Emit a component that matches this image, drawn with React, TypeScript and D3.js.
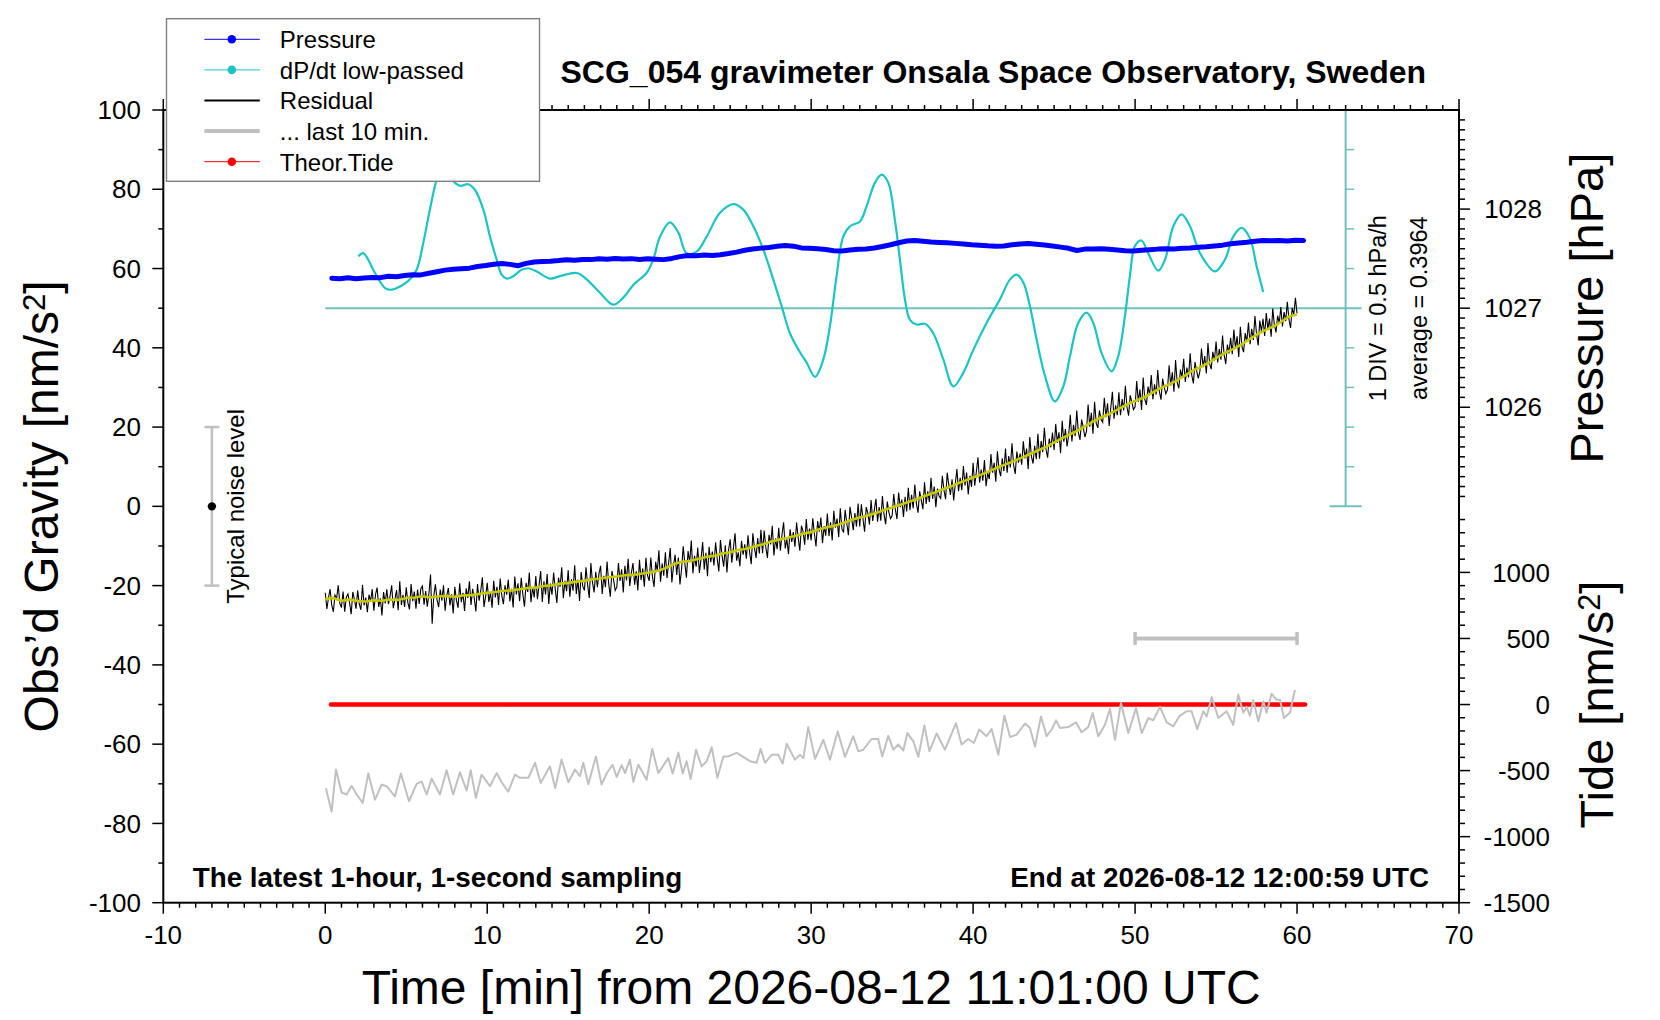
import React from 'react';
import * as d3 from 'd3';

const FONT = '"Liberation Sans", Arial, Helvetica, sans-serif';

// ---- axis labels ----
const timeLabels = [-10, 0, 10, 20, 30, 40, 50, 60, 70];
const gravityLabels = [-100, -80, -60, -40, -20, 0, 20, 40, 60, 80, 100];
const pressureLabels = [1026, 1027, 1028];
const tideLabels = [-1500, -1000, -500, 0, 500, 1000];

// ---- pressure [hPa], every 0.5 min from 0.4 min ----
const pressureHpa = [
  1027.302, 1027.298, 1027.306, 1027.296, 1027.304, 1027.31, 1027.308, 1027.322, 1027.318, 1027.33,
  1027.338, 1027.336, 1027.352, 1027.368, 1027.384, 1027.392, 1027.398, 1027.404, 1027.42, 1027.43,
  1027.444, 1027.45, 1027.442, 1027.428, 1027.452, 1027.466, 1027.47, 1027.474, 1027.48, 1027.488,
  1027.484, 1027.492, 1027.49, 1027.498, 1027.494, 1027.502, 1027.496, 1027.5, 1027.492, 1027.498,
  1027.494, 1027.49, 1027.502, 1027.52, 1027.532, 1027.528, 1027.536, 1027.532, 1027.54, 1027.552,
  1027.566, 1027.584, 1027.598, 1027.606, 1027.612, 1027.624, 1027.632, 1027.626, 1027.608, 1027.604,
  1027.6, 1027.592, 1027.58, 1027.578, 1027.588, 1027.594, 1027.598, 1027.608, 1027.622, 1027.64,
  1027.66, 1027.678, 1027.684, 1027.676, 1027.668, 1027.664, 1027.66, 1027.654, 1027.648, 1027.64,
  1027.636, 1027.63, 1027.626, 1027.628, 1027.64, 1027.648, 1027.652, 1027.646, 1027.638, 1027.628,
  1027.616, 1027.604, 1027.582, 1027.596, 1027.598, 1027.6, 1027.594, 1027.588, 1027.58, 1027.576,
  1027.584, 1027.59, 1027.596, 1027.6, 1027.598, 1027.604, 1027.608, 1027.614, 1027.62, 1027.628,
  1027.636, 1027.65, 1027.658, 1027.666, 1027.676, 1027.684, 1027.68, 1027.684, 1027.678, 1027.686,
  1027.682,
];

// ---- dP/dt low-passed [hPa/h] ----
const DPDT_AVG = 0.3964;
const dpdtMin = [
  2.04, 2.35, 3.07, 3.69, 4.1, 5.13, 5.64, 6.05, 6.46, 6.88, 7.35, 7.9, 8.32, 8.83, 9.24, 9.76, 10.17, 10.58,
  10.89, 11.2, 11.61, 12.12, 12.54, 13.05, 13.87, 14.49, 15.52, 16.14, 16.96, 17.78, 18.4, 19.02, 19.84, 20.25,
  20.67, 21.28, 21.8, 22.31, 22.93, 23.55, 24.37, 25.19, 25.81, 26.43, 27.04, 27.66, 28.18, 28.69, 29.31, 29.72,
  30.24, 30.75, 31.16, 31.57, 31.98, 32.4, 33.01, 33.42, 33.94, 34.35, 34.76, 35.17, 35.48, 35.79, 36.1, 36.51,
  37.03, 37.54, 38.16, 38.78, 39.39, 40.01, 40.83, 41.66, 42.28, 42.69, 43.1, 43.51, 43.92, 44.44, 45.05, 45.57,
  45.98, 46.49, 47.01, 47.42, 47.93, 48.55, 48.96, 49.37, 49.68, 49.99, 50.4, 50.81, 51.43, 51.85, 52.36, 52.87,
  53.39, 54.01, 54.93, 55.55, 56.06, 56.58, 57.09, 57.5, 57.91,
];
const dpdtHpaH = [
  1.05, 1.09, 0.84, 0.65, 0.63, 0.74, 0.88, 1.22, 1.64, 2.02, 2.25, 2.0, 1.94, 1.96, 1.89, 1.64, 1.3, 1.01,
  0.82, 0.77, 0.8, 0.88, 0.9, 0.86, 0.77, 0.8, 0.84, 0.76, 0.59, 0.44, 0.53, 0.69, 0.84, 1.01,
  1.3, 1.48, 1.35, 1.09, 1.11, 1.3, 1.6, 1.71, 1.64, 1.43, 1.14, 0.76, 0.42, 0.08, -0.16, -0.29,
  -0.47, -0.25, 0.17, 0.8, 1.3, 1.43, 1.49, 1.68, 1.98, 2.08, 1.98, 1.51, 1.01, 0.51, 0.25, 0.19,
  0.2, 0.08, -0.25, -0.59, -0.42, -0.13, 0.21, 0.51, 0.76, 0.82, 0.72, 0.42, 0.0, -0.46, -0.78, -0.59,
  -0.21, 0.21, 0.34, 0.21, -0.17, -0.4, -0.21, 0.29, 0.8, 1.18, 1.25, 1.09, 0.87, 1.01, 1.43, 1.58,
  1.43, 1.09, 0.86, 1.01, 1.3, 1.41, 1.28, 0.93, 0.6,
];

// ---- residual [nm/s^2], every 0.1 min ----
const residual = [
  -21.8, -25.9, -23.0, -20.9, -24.9, -26.6, -22.4, -23.3, -19.9, -24.5,
  -25.5, -21.5, -26.6, -22.9, -22.1, -24.3, -27.2, -21.6, -23.5, -25.8,
  -21.2, -24.6, -26.1, -19.8, -25.0, -23.0, -26.7, -22.3, -24.0, -20.9,
  -26.3, -22.3, -20.5, -25.4, -23.2, -27.5, -21.6, -24.5, -20.9, -24.7,
  -22.7, -19.9, -25.7, -23.5, -21.1, -26.2, -18.9, -24.9, -22.3, -25.4,
  -20.4, -24.3, -26.0, -19.6, -23.9, -21.5, -25.8, -21.0, -24.6, -20.8,
  -20.1, -24.8, -21.4, -25.3, -22.0, -17.2, -29.6, -22.6, -19.7, -23.6,
  -25.4, -21.0, -23.8, -19.9, -26.3, -22.5, -20.6, -25.0, -22.2, -27.0,
  -20.3, -23.7, -25.6, -19.4, -24.2, -21.8, -26.4, -20.7, -23.1, -18.9,
  -24.9, -20.8, -23.2, -26.5, -19.6, -23.8, -21.3, -17.9, -25.4, -22.7,
  -19.3, -24.1, -21.7, -25.6, -18.8, -23.0, -20.3, -24.9, -18.2, -22.5,
  -24.7, -19.9, -22.3, -18.5, -24.0, -20.8, -25.5, -17.7, -22.2, -19.4,
  -23.9, -18.0, -22.2, -25.3, -19.3, -21.6, -16.7, -24.2, -20.4, -23.0,
  -17.6, -23.4, -19.9, -16.3, -24.1, -18.9, -22.2, -17.1, -24.6, -19.5,
  -22.3, -16.7, -20.9, -24.4, -18.0, -20.3, -15.4, -23.2, -18.8, -21.4,
  -16.1, -22.8, -18.4, -21.3, -14.9, -22.1, -18.5, -23.9, -16.6, -20.2,
  -21.2, -15.4, -19.8, -23.1, -14.3, -19.2, -21.7, -16.5, -20.4, -17.0,
  -15.0, -22.1, -17.5, -20.4, -13.9, -19.6, -22.8, -16.3, -18.5, -21.2,
  -20.4, -14.3, -18.8, -15.9, -21.7, -15.0, -18.7, -13.2, -20.1, -16.8,
  -14.3, -19.8, -16.4, -21.2, -13.5, -18.6, -15.7, -20.3, -13.0, -17.5,
  -18.8, -12.9, -17.7, -20.3, -14.0, -16.3, -11.1, -19.0, -14.4, -17.5,
  -11.6, -18.1, -14.3, -10.5, -19.2, -15.0, -12.2, -17.3, -12.9, -19.7,
  -15.8, -10.1, -14.4, -18.0, -11.3, -14.1, -8.6, -16.9, -12.5, -15.2,
  -10.4, -16.8, -13.3, -9.0, -15.9, -11.7, -17.6, -10.2, -14.1, -11.4,
  -14.9, -9.1, -13.2, -16.4, -8.5, -12.5, -15.2, -9.8, -16.7, -11.0,
  -8.3, -14.2, -10.5, -6.8, -13.7, -11.6, -15.1, -8.7, -12.2, -9.6,
  -13.2, -7.3, -11.5, -14.6, -6.8, -10.4, -13.0, -8.0, -11.9, -5.9,
  -11.8, -6.1, -10.3, -13.0, -7.2, -9.6, -4.9, -12.4, -8.1, -10.8,
  -5.4, -11.2, -7.1, -4.0, -10.6, -8.3, -12.1, -5.8, -9.0, -6.5,
  -10.2, -4.1, -7.9, -11.2, -4.9, -6.3, -9.7, -3.2, -8.5, -5.6,
  -8.6, -3.0, -6.9, -10.1, -3.7, -6.4, -2.8, -9.3, -5.0, -7.4,
  -1.8, -7.5, -4.0, -8.6, -1.1, -5.4, -3.1, -7.8, -0.5, -5.7,
  -6.6, -0.9, -4.2, -7.3, -0.1, -2.9, -6.0, -1.7, -5.1, 0.7,
  -5.1, 0.5, -3.2, -6.4, -0.2, -1.7, -4.6, 1.6, -3.7, -0.9,
  1.9, -3.9, -0.2, -3.6, 2.6, -2.1, -4.5, 1.2, -1.5, -3.1,
  -2.4, 3.1, -0.8, -3.2, 3.5, -0.2, 1.7, -2.7, 2.4, -1.3,
  4.7, -1.0, 2.9, -0.5, 5.5, 0.6, -1.6, 3.8, 1.5, -0.7,
  6.1, 0.6, 3.8, 1.1, 7.2, 1.9, 5.0, -0.2, 4.5, 2.6,
  2.0, 7.7, 4.1, 1.8, 8.5, 5.4, 2.9, 6.8, 1.5, 5.7,
  9.4, 3.8, 7.2, 4.1, 10.2, 5.3, 8.5, 3.0, 7.7, 4.9,
  11.0, 5.2, 8.7, 12.4, 6.0, 9.3, 6.5, 11.7, 5.1, 8.4,
  6.9, 13.2, 8.5, 11.0, 6.2, 13.9, 9.3, 7.6, 12.1, 8.9,
  14.6, 8.5, 12.7, 9.8, 15.9, 10.4, 8.2, 13.8, 11.0, 13.3,
  10.5, 16.4, 12.1, 14.6, 9.4, 17.5, 12.6, 10.8, 15.3, 11.9,
  18.3, 12.0, 16.5, 13.7, 19.8, 14.4, 12.3, 17.1, 14.9, 18.6,
  14.2, 20.8, 16.0, 18.7, 13.4, 21.6, 16.3, 19.5, 15.1, 18.0,
  23.1, 16.4, 20.6, 17.7, 24.2, 18.6, 16.8, 21.9, 20.0, 17.5,
  18.9, 25.7, 20.1, 23.6, 18.3, 26.4, 21.0, 19.8, 24.2, 21.9,
  21.2, 27.4, 22.5, 26.0, 20.3, 24.8, 28.9, 22.1, 25.5, 23.0,
  28.8, 23.0, 27.1, 24.2, 30.4, 25.0, 22.9, 28.0, 26.3, 24.4,
  25.1, 31.6, 26.4, 29.5, 24.3, 32.5, 27.0, 25.6, 30.2, 28.1,
  33.1, 27.0, 30.8, 28.2, 34.4, 29.0, 26.9, 32.2, 30.1, 28.4,
  29.4, 35.6, 30.5, 33.8, 28.9, 36.9, 31.2, 29.8, 34.5, 32.6,
  37.2, 31.4, 35.0, 32.5, 38.6, 33.1, 31.0, 36.4, 34.2, 32.3,
  34.0, 39.8, 35.1, 37.9, 33.5, 41.2, 36.0, 34.6, 39.0, 36.8,
  41.6, 36.3, 39.7, 37.0, 43.1, 38.2, 35.9, 40.8, 38.6, 42.5,
  38.4, 44.6, 39.8, 42.9, 37.7, 45.3, 40.2, 38.9, 43.7, 41.5,
  46.4, 40.9, 44.8, 42.0, 48.0, 43.5, 40.6, 46.9, 44.2, 47.3,
  43.0, 48.8, 44.6, 47.4, 42.8, 49.9, 45.8, 43.9, 48.1, 46.2,
  50.3, 45.4, 49.0, 46.7, 51.6, 47.2, 45.0, 50.1, 48.4, 52.6,
  48.7,
];

// ---- smoothed residual [nm/s^2], every 0.5 min ----
const residualSmooth = [
  -23.4, -23.1, -23.8, -23.5, -23.9, -24.0, -23.7, -23.8, -23.5, -23.6,
  -23.1, -23.0, -22.7, -23.0, -22.7, -22.6, -22.8, -22.5, -22.4, -22.1,
  -21.8, -21.6, -21.3, -21.2, -20.9, -20.6, -20.5, -20.1, -19.9, -19.5,
  -19.3, -19.0, -18.8, -18.4, -18.2, -17.9, -17.7, -17.4, -17.3, -17.0,
  -16.7, -16.3, -15.6, -14.6, -14.0, -13.8, -13.3, -12.8, -12.5, -11.9,
  -11.6, -11.0, -10.7, -10.1, -9.6, -8.9, -8.4, -8.0, -7.5, -6.9,
  -6.5, -5.8, -5.3, -4.8, -4.2, -3.4, -2.8, -2.3, -1.7, -0.9,
  -0.3, 0.4, 1.1, 1.8, 2.6, 3.3, 4.1, 4.8, 5.7, 6.5,
  7.3, 8.0, 8.9, 9.8, 10.6, 11.4, 12.3, 13.2, 14.1, 15.0,
  16.1, 17.2, 18.2, 19.2, 20.4, 21.6, 22.6, 23.5, 24.6, 25.7,
  26.6, 27.4, 28.5, 29.7, 30.6, 31.6, 32.8, 34.1, 35.1, 36.1,
  37.4, 38.6, 39.6, 40.7, 42.0, 43.3, 44.4, 45.3, 46.5, 47.9,
  48.4,
];

// ---- "... last 10 min." trace [nm/s^2, left axis] ----
const last10Min = [
  0.04, 0.39, 0.66, 1.01, 1.32, 1.63, 1.94, 2.31, 2.66, 3.07, 3.48, 3.79, 4.3, 4.67, 5.17, 5.64, 5.95, 6.26,
  6.57, 7.08, 7.49, 7.9, 8.32, 8.73, 8.98, 9.3, 9.65, 10.17, 10.58, 10.89, 11.3, 11.71, 12.02, 12.54, 12.95,
  13.3, 13.87, 14.2, 14.59, 15.01, 15.42, 15.72, 15.93, 16.24, 16.71, 17.06, 17.37, 17.74, 17.99, 18.3, 18.51,
  18.81, 19.02, 19.33, 19.84, 20.19, 20.56, 21.18, 21.45, 21.8, 22.07, 22.31, 22.56, 22.89, 23.24, 23.55, 23.86,
  24.21, 24.58, 24.89, 25.4, 25.81, 26.22, 26.63, 26.88, 27.15, 27.56, 27.97, 28.24, 28.49, 29.0, 29.31, 29.52,
  29.82, 30.24, 30.75, 31.16, 31.64, 32.09, 32.6, 32.91, 33.22, 33.73, 34.14, 34.39, 34.76, 35.07, 35.38, 35.69,
  35.94, 36.31, 36.62, 36.99, 37.3, 37.75, 38.26, 38.57, 38.94, 39.29, 39.7, 40.05, 40.38, 40.83, 41.14, 41.56,
  41.93, 42.28, 42.69, 43.2, 43.51, 43.82, 44.19, 44.54, 44.85, 45.12, 45.36, 45.88, 46.35, 46.7, 47.11, 47.38,
  47.73, 48.14, 48.45, 48.76, 49.13, 49.58, 50.06, 50.41, 50.82, 51.12, 51.54, 51.95, 52.36, 52.73, 53.18,
  53.49, 53.84, 54.21, 54.42, 54.73, 55.14, 55.65, 56.06, 56.37, 56.68, 56.89, 57.09, 57.3, 57.61, 57.92,
  58.12, 58.43, 58.74, 58.95, 59.19, 59.56, 59.87,
];
const last10Nm = [
  -71.1, -77.0, -66.4, -72.2, -72.7, -70.5, -72.7, -74.8, -67.4, -74.0, -70.2, -70.6, -73.2, -67.4, -74.4, -70.0, -69.4, -72.7,
  -68.7, -72.7, -66.6, -72.7, -67.1, -71.7, -66.6, -73.6, -67.7, -70.6, -67.3, -69.6, -72.0, -67.7, -68.5, -68.5, -64.7,
  -69.8, -65.6, -71.1, -63.9, -69.6, -66.4, -68.1, -64.7, -70.1, -63.1, -70.2, -67.4, -65.2, -68.3, -65.3, -67.3,
  -63.9, -69.5, -65.2, -69.0, -61.2, -67.3, -63.5, -67.4, -62.1, -67.4, -64.3, -68.8, -61.4, -65.6, -64.3, -60.8,
  -68.5, -63.1, -63.1, -62.2, -63.2, -64.3, -64.7, -61.2, -64.7, -62.7, -62.7, -64.9, -59.9, -63.9, -62.7, -63.5,
  -55.7, -63.7, -58.9, -63.9, -56.8, -63.2, -58.0, -61.8, -61.4, -58.7, -58.7, -63.1, -57.9, -61.4, -60.1, -61.6,
  -57.2, -59.3, -63.2, -55.3, -61.8, -57.3, -61.4, -58.4, -54.7, -60.1, -58.7, -59.7, -56.3, -58.0, -56.2, -62.7,
  -52.8, -58.2, -57.6, -54.8, -55.9, -60.6, -53.0, -58.0, -56.3, -54.0, -55.9, -55.7, -54.5, -57.0, -55.7, -52.1,
  -58.0, -55.1, -51.1, -58.9, -49.6, -57.2, -50.9, -57.2, -53.4, -54.0, -50.6, -54.5, -55.5, -53.0, -51.7,
  -51.7, -56.2, -51.7, -53.0, -48.1, -53.4, -51.7, -55.1, -47.5, -52.1, -50.6, -52.8, -48.9, -54.2, -49.2,
  -52.1, -47.3, -48.8, -48.8, -53.4, -52.1, -46.3,
];

// ---- theoretical tide [nm/s^2, tide axis] ----
const tideMin = [0.35, 10, 20, 30, 40, 50, 60.5];
const tideNm = [0, 0, 0, 0, 0, 0, 0];

const legendRows = [
  { label: 'Pressure', color: '#0000ff', kind: 'dot' },
  { label: 'dP/dt low-passed', color: '#1cc4c4', kind: 'dot' },
  { label: 'Residual', color: '#000000', kind: 'line' },
  { label: '... last 10 min.', color: '#c0c0c0', kind: 'thick' },
  { label: 'Theor.Tide', color: '#ff0000', kind: 'dot' },
];

const App: React.FC = () => {
  const x = d3.scaleLinear().domain([-10, 70]).range([163.3, 1459]);
  const yG = d3.scaleLinear().domain([-100, 100]).range([902.7, 110]);
  const yP = d3.scaleLinear().domain([1025, 1029]).range([yG(0), yG(100)]);
  const yT = d3.scaleLinear().domain([-1500, 1500]).range([yG(-100), yG(0)]);
  const yC = d3.scaleLinear().domain([DPDT_AVG - 2.5, DPDT_AVG + 2.5]).range([yG(0), yG(100)]);

  const [x0, x1] = x.range();
  const [yBot, yTop] = yG.range();

  const pressurePath = d3.line<number>().x((_, i) => x(0.4 + i * 0.5)).y(d => yP(d))(pressureHpa) || '';
  const dpdtPath = d3.line<number>()
    .x((_, i) => x(dpdtMin[i]))
    .y(d => yC(d))
    .curve(d3.curveCatmullRom)(dpdtHpaH) || '';
  const residualPath = d3.line<number>().x((_, i) => x(i * 0.1)).y(d => yG(d))(residual) || '';
  const smoothPath = d3.line<number>().x((_, i) => x(i * 0.5)).y(d => yG(d))(residualSmooth) || '';
  const last10Path = d3.line<number>().x((_, i) => x(last10Min[i])).y(d => yG(d))(last10Nm) || '';
  const tidePath = d3.line<number>().x((_, i) => x(tideMin[i])).y(d => yT(d))(tideNm) || '';

  const minuteTicks = d3.range(-10, 71);
  const gravityTicks = d3.range(-100, 101, 10);
  const pressureTicks = d3.range(1, 40).map(i => ({ v: 1025 + i / 10, major: i % 10 === 0 }));
  const tideTicks = d3.range(-15, 15).map(i => ({ v: i * 100, major: i % 5 === 0 }));
  const divTicks = [10, 20, 30, 40, 60, 70, 80, 90];

  const scaleCol = '#6dc2be';
  const barX = x(63);

  return (
    <div>
      <style>{'body{margin:0}'}</style>
      <svg width={1660} height={1020} style={{ display: 'block', background: '#fff' }} fontFamily={FONT}>
        {/* dP/dt scale: centre line and 1 DIV bar */}
        <line x1={x(0)} x2={barX + 16} y1={yC(DPDT_AVG)} y2={yC(DPDT_AVG)} stroke={scaleCol} strokeWidth={2} />
        <line x1={barX} x2={barX} y1={yG(100)} y2={yG(0)} stroke={scaleCol} strokeWidth={2} />
        <line x1={barX - 16} x2={barX + 16} y1={yG(100)} y2={yG(100)} stroke={scaleCol} strokeWidth={2} />
        <line x1={barX - 16} x2={barX + 16} y1={yG(0)} y2={yG(0)} stroke={scaleCol} strokeWidth={2} />
        {divTicks.map(v => (
          <line key={v} x1={barX} x2={barX + 8.5} y1={yG(v)} y2={yG(v)} stroke={scaleCol} strokeWidth={1.5} />
        ))}

        {/* series */}
        <path d={dpdtPath} fill="none" stroke="#1cc4c4" strokeWidth={2.2} />
        <path d={pressurePath} fill="none" stroke="#0000ff" strokeWidth={5} strokeLinejoin="round" strokeLinecap="round" />
        <path d={tidePath} fill="none" stroke="#ff0000" strokeWidth={4.5} strokeLinecap="round" />
        <path d={last10Path} fill="none" stroke="#c0c0c0" strokeWidth={2} strokeLinejoin="round" />
        <path d={residualPath} fill="none" stroke="#000" strokeWidth={1.1} />
        <path d={smoothPath} fill="none" stroke="#c8c800" strokeWidth={2.6} strokeLinejoin="round" />

        {/* last 10 min window marker */}
        <line x1={x(50)} x2={x(60)} y1={yT(500)} y2={yT(500)} stroke="#c0c0c0" strokeWidth={4} />
        <line x1={x(50)} x2={x(50)} y1={yT(500) - 6.5} y2={yT(500) + 6.5} stroke="#c0c0c0" strokeWidth={3.5} />
        <line x1={x(60)} x2={x(60)} y1={yT(500) - 6.5} y2={yT(500) + 6.5} stroke="#c0c0c0" strokeWidth={3.5} />

        {/* typical noise level */}
        <line x1={x(-7)} x2={x(-7)} y1={yG(20)} y2={yG(-20)} stroke="#c0c0c0" strokeWidth={2.5} />
        <line x1={x(-7) - 7.5} x2={x(-7) + 7.5} y1={yG(20)} y2={yG(20)} stroke="#c0c0c0" strokeWidth={2.5} />
        <line x1={x(-7) - 7.5} x2={x(-7) + 7.5} y1={yG(-20)} y2={yG(-20)} stroke="#c0c0c0" strokeWidth={2.5} />
        <circle cx={x(-7)} cy={yG(0)} r={4.2} fill="#000" />
        <text transform={`translate(244, ${yG(0)}) rotate(-90)`} textAnchor="middle" fontSize={24}>Typical noise level</text>

        {/* frame */}
        <rect x={x0} y={yTop} width={x1 - x0} height={yBot - yTop} fill="none" stroke="#000" strokeWidth={2} />

        {/* bottom and top ticks */}
        {minuteTicks.map(t => {
          const len = t % 10 === 0 ? 11 : 5;
          return (
            <g key={t}>
              <line x1={x(t)} x2={x(t)} y1={yBot} y2={yBot + len} stroke="#000" strokeWidth={1.5} />
              <line x1={x(t)} x2={x(t)} y1={yTop} y2={yTop - len} stroke="#000" strokeWidth={1.5} />
            </g>
          );
        })}
        {timeLabels.map(t => (
          <text key={t} x={x(t)} y={944} textAnchor="middle" fontSize={26}>{t}</text>
        ))}

        {/* left ticks */}
        {gravityTicks.map(v => (
          <line key={v} x1={x0} x2={x0 - (v % 20 === 0 ? 11 : 5)} y1={yG(v)} y2={yG(v)} stroke="#000" strokeWidth={1.5} />
        ))}
        {gravityLabels.map(v => (
          <text key={v} x={141} y={yG(v)} dy="0.35em" textAnchor="end" fontSize={26}>{v}</text>
        ))}

        {/* right ticks: pressure (upper) and tide (lower) */}
        {pressureTicks.map(d => (
          <line key={d.v} x1={x1} x2={x1 + (d.major ? 11 : 6)} y1={yP(d.v)} y2={yP(d.v)} stroke="#000" strokeWidth={1.5} />
        ))}
        {pressureLabels.map(v => (
          <text key={v} x={1542} y={yP(v)} dy="0.35em" textAnchor="end" fontSize={26}>{v}</text>
        ))}
        {tideTicks.map(d => (
          <line key={d.v} x1={x1} x2={x1 + (d.major ? 11 : 6)} y1={yT(d.v)} y2={yT(d.v)} stroke="#000" strokeWidth={1.5} />
        ))}
        {tideLabels.map(v => (
          <text key={v} x={1550} y={yT(v)} dy="0.35em" textAnchor="end" fontSize={26}>{v}</text>
        ))}

        {/* scale bar texts */}
        <text transform={`translate(1386, ${yC(DPDT_AVG)}) rotate(-90)`} textAnchor="middle" fontSize={23.5}>1 DIV = 0.5 hPa/h</text>
        <text transform={`translate(1427, ${yC(DPDT_AVG)}) rotate(-90)`} textAnchor="middle" fontSize={23.5}>average = 0.3964</text>

        {/* titles */}
        <text x={560.5} y={83} fontSize={32} fontWeight="bold">SCG_054 gravimeter Onsala Space Observatory, Sweden</text>
        <text x={192.7} y={887} fontSize={27.8} fontWeight="bold">The latest 1-hour, 1-second sampling</text>
        <text x={1429} y={887} fontSize={27.8} fontWeight="bold" textAnchor="end">End at 2026-08-12 12:00:59 UTC</text>
        <text x={(x0 + x1) / 2} y={1004} fontSize={48} textAnchor="middle">Time [min] from 2026-08-12 11:01:00 UTC</text>
        <text transform={`translate(58, ${(yTop + yBot) / 2}) rotate(-90)`} fontSize={48} textAnchor="middle">
          Obs’d Gravity [nm/s<tspan dy="-0.42em" fontSize="0.65em">2</tspan><tspan dy="0.27em">]</tspan>
        </text>
        <text transform={`translate(1603, ${yP(1027)}) rotate(-90)`} fontSize={47} textAnchor="middle">Pressure [hPa]</text>
        <text transform={`translate(1613, ${yT(0)}) rotate(-90)`} fontSize={47} textAnchor="middle">
          Tide [nm/s<tspan dy="-0.42em" fontSize="0.65em">2</tspan><tspan dy="0.27em">]</tspan>
        </text>

        {/* legend */}
        <rect x={166.5} y={18.7} width={373} height={162.6} fill="#fff" stroke="#808080" strokeWidth={1.4} />
        {legendRows.map((r, i) => {
          const cy = 39.3 + i * 30.6;
          return (
            <g key={r.label}>
              <line x1={204.4} x2={259.8} y1={cy} y2={cy} stroke={r.color}
                strokeWidth={r.kind === 'dot' ? 1 : r.kind === 'thick' ? 4 : 2.2} />
              {r.kind === 'dot' && <circle cx={231.8} cy={cy} r={4.3} fill={r.color} />}
              <text x={279.8} y={cy + 8.8} fontSize={24}>{r.label}</text>
            </g>
          );
        })}
      </svg>
    </div>
  );
};

export default App;
